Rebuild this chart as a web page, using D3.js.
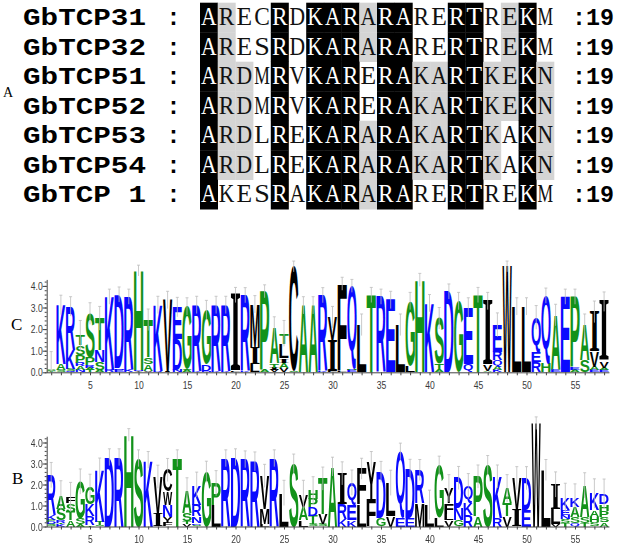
<!DOCTYPE html>
<html><head><meta charset="utf-8">
<script src="https://cdn.jsdelivr.net/npm/d3@7"></script>
<style>body{margin:0;background:#fff}svg{display:block}</style>
</head><body>
<svg id="fig" width="625" height="552"></svg>
<script>
// ---------- Panel A: alignment ----------
const seqNames = ["GbTCP31","GbTCP32","GbTCP51","GbTCP52","GbTCP53","GbTCP54","GbTCP 1"];
const seqs = ["ARECRDKARARARERTREKM","ARESRDKARARARERTREKM","ARDMRVKARERAKARTKEKN",
  "ARDMRVKARERAKARTKEKN","ARDLREKARARAKARTKAKN","ARDLREKARARAKARTKAKN","AKESRAKARARARERTREKM"];
const seqEnds = [":19",":19",":19",":19",":19",":19",":19"];
// B = black (identical), G = grey (similar), . = none
const shading = ["BG..B.BBBGBB..BB.GB.","BG..B.BBBGBB..BB.GB.","BGG.B.BBB.BBGGBBGGBG",
  "BGG.B.BBB.BBGGBBGGBG","BGG.B.BBBGBBGGBBG.BG","BGG.B.BBBGBBGGBBG.BG","B...B.BBBGBB..BB..B."];
const panelLabels = ["A","C","B"];

// ---------- Logo C (stacks bottom -> top, [residue, bits]) ----------
const logoCStacks = [
 [["T",0.05],["S",0.05],["A",0.06]],
 [["S",0.1],["A",0.27],["K",2.75]],
 [["Q",0.08],["S",0.09],["K",0.88],["R",2.0]],
 [["N",0.1],["A",0.18],["R",0.16],["P",0.36],["S",0.45],["T",0.45]],
 [["T",0.12],["A",0.1],["R",0.12],["P",0.33],["S",2.05]],
 [["A",0.1],["S",0.38],["N",0.54],["T",1.48]],
 [["R",0.1],["K",3.4]],
 [["E",0.12],["N",0.08],["D",3.4]],
 [["K",0.1],["R",3.4]],
 [["Y",0.05],["N",0.06],["H",4.6]],
 [["V",0.08],["A",0.3],["S",0.31],["T",1.74]],
 [["R",0.07],["K",3.05]],
 [["I",0.05],["V",3.3]],
 [["N",0.1],["D",1.42],["E",1.5]],
 [["A",0.1],["S",0.05],["G",2.9]],
 [["K",0.07],["R",3.05]],
 [["N",0.07],["D",0.31],["G",2.5]],
 [["K",0.07],["R",3.05]],
 [["K",0.07],["R",3.05]],
 [["L",0.05],["I",3.53]],
 [["K",0.07],["R",3.5]],
 [["L",0.35],["I",0.8],["M",2.0]],
 [["A",0.1],["P",3.65]],
 [["V",0.1],["I",0.12],["T",0.2],["A",1.6]],
 [["V",0.2],["A",0.25],["I",0.2],["L",0.65],["T",0.5]],
 [["S",0.05],["C",4.85]],
 [["A",3.1]],
 [["A",3.1]],
 [["K",0.07],["R",3.5]],
 [["L",0.05],["I",1.45],["V",1.05]],
 [["L",0.05],["F",4.05]],
 [["E",0.1],["H",0.05],["Q",3.85]],
 [["L",2.2]],
 [["T",3.58]],
 [["R",3.5]],
 [["E",3.35]],
 [["L",2.2]],
 [["L",0.3],["G",3.0]],
 [["H",4.28]],
 [["K",3.2]],
 [["A",0.1],["T",0.3],["S",2.1]],
 [["D",3.74]],
 [["G",3.3]],
 [["Q",0.4],["E",2.6]],
 [["T",3.58]],
 [["A",0.05],["V",0.3],["I",2.95]],
 [["K",0.1],["A",0.15],["Q",0.3],["R",0.4],["E",1.25]],
 [["W",4.9]],
 [["L",3.05]],
 [["L",3.05]],
 [["R",0.46],["E",0.46],["Q",1.62]],
 [["H",0.4],["Q",3.15]],
 [["E",0.1],["A",2.55]],
 [["E",3.5]],
 [["A",0.1],["E",0.1],["P",3.3]],
 [["S",0.55],["A",1.6]],
 [["E",0.1],["A",0.15],["V",0.7],["I",1.85]],
 [["E",0.12],["A",0.1],["V",0.3],["I",2.75]]
];
const logoCErr = [0.8,0.45,0.45,0.7,0.5,0.55,0.35,0.35,0.35,0.25,0.5,0.4,0.4,0.45,0.4,0.4,0.45,0.4,0.4,0.35,
 0.35,0.4,0.3,0.55,0.6,0.25,0.4,0.4,0.35,0.5,0.3,0.3,0.5,0.35,0.35,0.4,0.5,0.4,0.3,0.4,
 0.5,0.35,0.4,0.45,0.35,0.4,0.55,0.25,0.4,0.4,0.55,0.35,0.5,0.35,0.35,0.55,0.5,0.45];

// ---------- Logo B ----------
const logoBStacks = [
 [["S",0.1],["D",0.1],["P",0.1],["K",0.25],["R",1.9]],
 [["K",0.1],["T",0.08],["R",0.12],["S",0.55],["A",0.63]],
 [["A",0.3],["T",0.4],["S",0.4],["F",0.3]],
 [["A",0.1],["S",0.3],["G",1.74]],
 [["T",0.05],["R",0.43],["K",0.56],["G",0.8]],
 [["S",0.05],["T",0.18],["K",2.48]],
 [["D",3.3]],
 [["R",3.3]],
 [["H",4.36]],
 [["S",3.25]],
 [["K",3.17]],
 [["I",0.6],["V",1.77]],
 [["F",0.15],["Y",0.32],["N",0.56],["W",0.63],["C",1.03]],
 [["T",3.25]],
 [["V",0.12],["T",0.12],["S",0.4],["A",1.03]],
 [["S",0.08],["D",0.08],["N",0.32],["R",0.56],["K",0.95]],
 [["G",2.61]],
 [["L",1.03],["P",1.03]],
 [["R",3.25]],
 [["D",3.3]],
 [["R",3.2]],
 [["R",3.1]],
 [["L",0.1],["M",0.71],["V",1.6]],
 [["R",3.25]],
 [["L",1.6]],
 [["S",3.0]],
 [["L",0.31],["A",0.63],["V",0.56]],
 [["S",0.12],["T",0.4],["D",0.4],["P",0.4],["H",0.4]],
 [["S",0.1],["V",0.48],["T",1.7]],
 [["A",2.85]],
 [["K",0.35],["R",0.7],["I",1.48]],
 [["K",0.33],["E",0.71],["Q",1.05]],
 [["L",1.05],["F",1.7]],
 [["F",1.27],["Y",1.85]],
 [["G",0.4],["D",2.2]],
 [["V",0.48],["L",1.6]],
 [["E",0.4],["Q",3.17]],
 [["E",0.4],["D",2.3]],
 [["M",1.1],["R",1.59]],
 [["L",1.03]],
 [["L",0.4],["G",2.5]],
 [["V",0.3],["L",0.3],["F",0.5],["Y",0.72]],
 [["G",0.3],["N",0.56],["D",1.45]],
 [["R",0.56],["K",0.56],["Q",0.8]],
 [["A",0.48],["P",1.9]],
 [["S",2.93]],
 [["R",0.4],["K",1.98]],
 [["V",0.48],["T",0.63],["A",0.71]],
 [["I",0.79],["V",1.51]],
 [["E",0.79],["D",1.51]],
 [["W",4.92]],
 [["L",2.69]],
 [["V",0.1],["L",0.71],["I",1.19]],
 [["T",0.15],["S",0.2],["N",0.2],["E",0.25],["K",0.56]],
 [["Q",0.15],["S",0.3],["A",0.48],["K",0.4]],
 [["T",0.15],["S",0.3],["A",1.51]],
 [["S",0.2],["H",0.25],["A",0.32],["K",0.8]],
 [["A",0.2],["S",0.24],["P",0.32],["H",0.32],["D",0.48]]
];
const logoBErr = [0.6,0.7,0.7,0.6,0.65,0.55,0.4,0.4,0.3,0.4,0.4,0.55,0.55,0.4,0.65,0.6,0.5,0.6,0.4,0.4,
 0.4,0.45,0.55,0.4,0.6,0.45,0.7,0.65,0.55,0.45,0.55,0.6,0.5,0.45,0.5,0.6,0.4,0.5,0.5,0.7,
 0.45,0.65,0.55,0.6,0.55,0.45,0.55,0.65,0.55,0.55,0.3,0.5,0.6,0.7,0.7,0.6,0.7,0.7];

const yTicks = [0,1,2,3,4];
const xTickLabels = [5,10,15,20,25,30,35,40,45,50,55];

// ---------- drawing ----------
const svg = d3.select("#fig");

// Panel A
const colX = d3.scaleBand().domain(d3.range(20)).range([200, 554]);
const rowY = d3.scaleBand().domain(d3.range(7)).range([2.7, 209.2]);
const gA = svg.append("g").attr("opacity", 0.999);
const cells = [];
shading.forEach((s, r) => s.split("").forEach((c, k) => cells.push({r, k, c, ch: seqs[r][k]})));
gA.selectAll("rect.cell").data(cells.filter(d => d.c !== ".")).join("rect")
  .attr("x", d => colX(d.k)).attr("y", d => rowY(d.r))
  .attr("width", colX.bandwidth() + 0.3).attr("height", rowY.bandwidth() + 0.3)
  .attr("fill", d => d.c === "B" ? "#000" : "#d4d4d4");
gA.selectAll("text.res").data(cells).join("text")
  .attr("x", d => colX(d.k) + 1.1).attr("y", d => rowY(d.r) + 22.6)
  .attr("textLength", 15.6).attr("lengthAdjust", "spacingAndGlyphs")
  .attr("font-family", "Liberation Serif, serif").attr("font-size", 24.5)
  .attr("fill", d => d.c === "B" ? "#fff" : "#111")
  .text(d => d.ch);
gA.selectAll("text.name").data(seqNames).join("text")
  .attr("x", 23).attr("y", (d, i) => rowY(i) + 22.6)
  .attr("font-family", "Liberation Mono, monospace").attr("font-weight", "bold").attr("font-size", 24)
  .attr("textLength", 123).attr("lengthAdjust", "spacingAndGlyphs")
  .text(d => d);
gA.selectAll("text.colon").data(seqNames).join("text")
  .attr("x", 173.5).attr("y", (d, i) => rowY(i) + 22.6).attr("text-anchor", "middle")
  .attr("font-family", "Liberation Mono, monospace").attr("font-weight", "bold").attr("font-size", 24)
  .text(":");
gA.selectAll("text.end").data(seqEnds).join("text")
  .attr("x", 572).attr("y", (d, i) => rowY(i) + 22.6)
  .attr("font-family", "Liberation Mono, monospace").attr("font-weight", "bold").attr("font-size", 24)
  .attr("textLength", 42).attr("lengthAdjust", "spacingAndGlyphs")
  .text(d => d);

// panel letters
svg.append("text").attr("x", 3).attr("y", 97).attr("font-family", "Liberation Serif, serif").attr("font-size", 14).text(panelLabels[0]);
svg.append("text").attr("x", 11).attr("y", 330).attr("font-family", "Liberation Serif, serif").attr("font-size", 17).text(panelLabels[1]);
svg.append("text").attr("x", 12).attr("y", 483.5).attr("font-family", "Liberation Serif, serif").attr("font-size", 17).text(panelLabels[2]);

// glyph metrics via canvas
const ctx = document.createElement("canvas").getContext("2d");
const metricCache = {};
function famFor(ch) { return ch === "I" ? "Liberation Serif" : "Liberation Sans"; }
function glyphMetrics(ch) {
  if (metricCache[ch]) return metricCache[ch];
  ctx.font = `bold 100px "${famFor(ch)}"`;
  const m = ctx.measureText(ch);
  return metricCache[ch] = {L: m.actualBoundingBoxLeft, R: m.actualBoundingBoxRight,
    A: m.actualBoundingBoxAscent, D: m.actualBoundingBoxDescent};
}
function resColor(ch) {
  if ("RKDENQ".includes(ch)) return "#0a0aff";
  if ("SGHTAP".includes(ch)) return "#12921a";
  return "#000";
}

function drawLogo(stacks, errs, y0, ppb) {
  const g = svg.append("g");
  const x = d3.scaleLinear().domain([0.5, stacks.length + 0.5]).range([46.35, 46.35 + 9.7 * stacks.length]);
  const y = d3.scaleLinear().domain([0, 4.3]).range([y0, y0 - 4.3 * ppb]);
  const letters = [];
  const tops = [];
  stacks.forEach((st, i) => {
    let cum = 0;
    st.forEach(([ch, h]) => { letters.push({p: i + 1, ch, b0: cum, b1: cum + h}); cum += h; });
    tops.push({p: i + 1, top: cum, e: errs[i]});
  });
  const gap = 0.2;
  g.append("g").attr("opacity", 0.999)
    .selectAll("text.l").data(letters.filter(d => (y(d.b0) - y(d.b1)) > 0.6)).join("text")
    .attr("font-family", d => famFor(d.ch)).attr("font-weight", "bold").attr("font-size", 100)
    .attr("fill", d => resColor(d.ch))
    .attr("transform", d => {
      const m = glyphMetrics(d.ch);
      const bx = x(d.p - 0.5) + gap, bw = x(d.p + 0.5) - x(d.p - 0.5) - 2 * gap;
      const by = y(d.b1), bh = y(d.b0) - y(d.b1);
      return `translate(${bx},${by}) scale(${bw / (m.L + m.R)},${bh / (m.A + m.D)}) translate(${m.L},${m.A})`;
    })
    .text(d => d.ch);
  // error bars
  const eb = g.append("g").attr("stroke", "#bdbdbd").attr("stroke-width", 0.8).attr("fill", "none");
  eb.selectAll("line.v").data(tops).join("line")
    .attr("x1", d => x(d.p)).attr("x2", d => x(d.p))
    .attr("y1", d => y(Math.max(0, d.top - d.e))).attr("y2", d => y(d.top + d.e));
  eb.selectAll("line.c").data(tops).join("line")
    .attr("x1", d => x(d.p) - 1.5).attr("x2", d => x(d.p) + 1.5)
    .attr("y1", d => y(d.top + d.e)).attr("y2", d => y(d.top + d.e));
  // axes
  const yAxis = d3.axisLeft(y).tickValues(yTicks).tickFormat(d3.format(".1f")).tickSize(4).tickSizeOuter(0);
  const ya = g.append("g").attr("transform", "translate(46.7,0)").call(yAxis);
  const minor = d3.axisLeft(y).tickValues(d3.range(0, 4.31, 0.2)).tickFormat("").tickSize(2).tickSizeOuter(0);
  g.append("g").attr("transform", "translate(46.7,0)").call(minor).select(".domain").remove();
  const xAxis = d3.axisBottom(x).tickValues(d3.range(1, stacks.length + 1))
    .tickFormat(d => xTickLabels.includes(d) ? d : "").tickSize(3).tickSizeOuter(0);
  const xa = g.append("g").attr("transform", `translate(0,${y0})`).call(xAxis);
  g.selectAll(".tick text").attr("font-family", "Liberation Sans, sans-serif")
    .attr("font-size", 11).attr("fill", "#3a3a3a");
  xa.selectAll(".tick text").attr("transform", "scale(0.78,1)").attr("dy", "0.95em");
  ya.selectAll(".tick text").attr("transform", "translate(1.5,0) scale(0.78,1)");
  g.selectAll(".domain, .tick line").attr("stroke", "#444");
}
drawLogo(logoCStacks, logoCErr, 372.3, 21.6);
drawLogo(logoBStacks, logoBErr, 526.5, 21.0);
</script>
</body></html>
